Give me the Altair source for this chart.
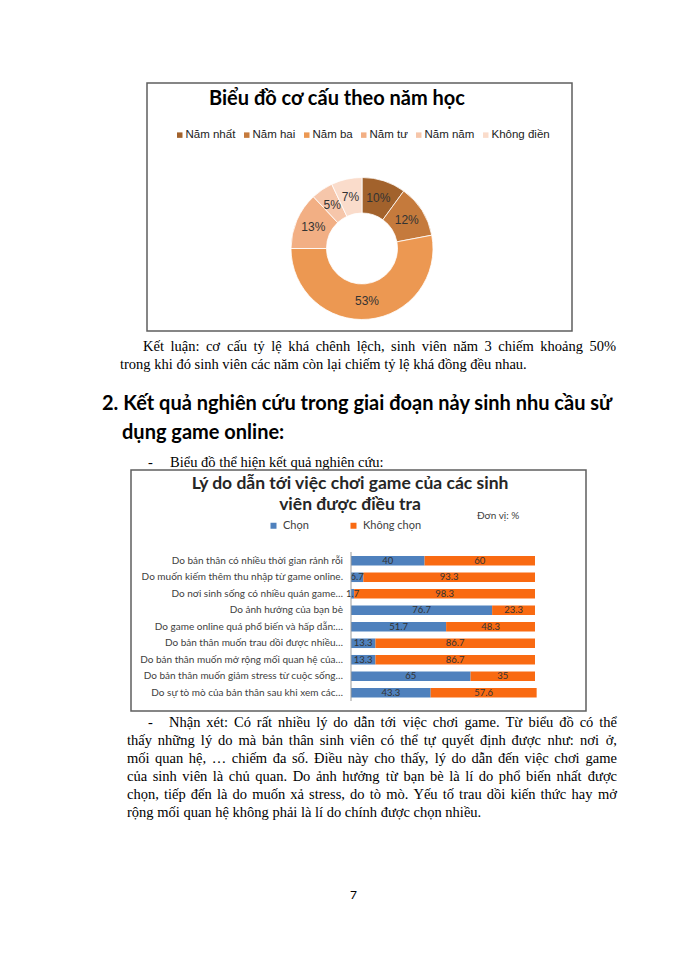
import unicodedata
import altair as alt
import pandas as pd

# ---------------- data ----------------
years = ["Năm nhất", "Năm hai", "Năm ba", "Năm tư", "Năm năm", "Không điền"]
year_pct = [10, 12, 53, 13, 5, 7]
year_colors = ["#A2622C", "#C57A3C", "#EC9852", "#F2AF84", "#F6C6AA", "#FADCCB"]

reasons = [
    "Do bản thân có nhiều thời gian rảnh rỗi",
    "Do muốn kiếm thêm thu nhập từ game online.",
    "Do nơi sinh sống có nhiều quán game…",
    "Do ảnh hưởng của bạn bè",
    "Do game online quá phổ biến và hấp dẫn:…",
    "Do bản thân muốn trau dồi được nhiều…",
    "Do bản thân muốn mở rộng mối quan hệ của…",
    "Do bản thân muốn giảm stress từ cuộc sống…",
    "Do sự tò mò của bản thân sau khi xem các…",
]
chon = [40, 6.7, 1.7, 76.7, 51.7, 13.3, 13.3, 65, 43.3]
khong_chon = [60, 93.3, 98.3, 23.3, 48.3, 86.7, 86.7, 35, 57.6]
series = ["Chọn", "Không chọn"]
series_colors = ["#4F81BD", "#F96A12"]

para1 = [
    "Kết luận: cơ cấu tỷ lệ khá chênh lệch, sinh viên năm 3 chiếm khoảng 50%",
    "trong khi đó sinh viên các năm còn lại chiếm tỷ lệ khá đồng đều nhau.",
]
heading = ["2. Kết quả nghiên cứu trong giai đoạn nảy sinh nhu cầu sử", "dụng game online:"]
bullet1 = "Biểu đồ thể hiện kết quả nghiên cứu:"
para2 = [
    "Nhận xét: Có rất nhiều lý do dẫn tới việc chơi game. Từ biểu đồ có thể",
    "thấy những lý do mà bản thân sinh viên có thể tự quyết định được như: nơi ở,",
    "mối quan hệ, … chiếm đa số. Điều này cho thấy, lý do dẫn đến việc chơi game",
    "của sinh viên là chủ quan. Do ảnh hưởng từ bạn bè là lí do phổ biến nhất được",
    "chọn, tiếp đến là do muốn xả stress, do tò mò. Yếu tố trau dồi kiến thức hay mở",
    "rộng mối quan hệ không phải là lí do chính được chọn nhiều.",
]
donut_title = "Biểu đồ cơ cấu theo năm học"
bar_title = ["Lý do dẫn tới việc chơi game của các sinh", "viên được điều tra"]
unit_note = "Đơn vị: %"
page_no = "7"

# ---------------- helpers ----------------
ONE = alt.Data(values=[{"k": 0}])
BODY = 14.5

# approximate Times advance widths (per 1000 em), used only to justify lines
_TW = dict(zip("abcdefghijklmnopqrstuvwxyz",
               [444, 500, 444, 500, 444, 333, 500, 500, 278, 278, 500, 278, 778,
                500, 500, 500, 500, 333, 389, 278, 500, 500, 722, 500, 500, 444]))
_TW.update(dict(zip("ABCDEFGHIJKLMNOPQRSTUVWXYZ",
                    [722, 667, 667, 722, 611, 556, 722, 722, 333, 389, 722, 611, 889,
                     722, 722, 556, 722, 667, 556, 611, 722, 722, 944, 722, 722, 611])))
_TW.update({c: 500 for c in "0123456789"})
_TW.update({" ": 250, ",": 250, ".": 250, ":": 278, "%": 833, "…": 1000, "-": 333})
_HORN = "ơờởỡớợưừửữứự"


def text_width(s, size=BODY):
    total = 0
    for ch in s:
        if ch in "đĐ":
            b = "d" if ch == "đ" else "D"
        else:
            b = unicodedata.normalize("NFD", ch)[0]
        w = _TW.get(b, 500)
        if ch.lower() in _HORN:
            w += 60
        total += w
    return total / 1000 * size


def P(v):
    return v - 8


def txt(s, x, y, size, font="Liberation Serif", weight="normal", color="#000000", align="left"):
    return alt.Chart(ONE).mark_text(
        align=align, baseline="middle", font=font, fontSize=size,
        fontWeight=weight, color=color
    ).encode(x=alt.value(P(x)), y=alt.value(P(y)), text=alt.value(s))


def justified(line, x0, x1, y, size=BODY):
    words = line.split(" ")
    widths = [text_width(w, size) for w in words]
    gap = max(2.0, (x1 - x0 - sum(widths)) / (len(words) - 1))
    out = []
    x = x0
    for i, w in enumerate(words):
        if i == len(words) - 1:
            out.append(txt(w, x1, y, size, align="right"))
        else:
            out.append(txt(w, x, y, size))
        x += widths[i] + gap
    return out


def frame(x1, y1, x2, y2):
    return alt.Chart(ONE).mark_rect(filled=False, stroke="#5f5f5f", strokeWidth=1.5).encode(
        x=alt.value(P(x1)), x2=alt.value(P(x2)), y=alt.value(P(y1)), y2=alt.value(P(y2))
    )


layers = []

# ---------------- donut chart ----------------
layers.append(frame(147, 83, 572, 331))
layers.append(txt(donut_title, 337, 99, 20, font="Lato", weight="bold", align="center"))

df_year = pd.DataFrame({"year": years, "pct": year_pct, "idx": list(range(len(years)))})
df_year["label"] = [f"{v}%" for v in year_pct]
cx, cy = P(362), P(248.5)

donut = alt.Chart(df_year).mark_arc(outerRadius=71, innerRadius=35.5, stroke="#ffffff", strokeWidth=0.8).encode(
    theta=alt.Theta("pct:Q", stack=True),
    color=alt.Color(
        "year:N",
        scale=alt.Scale(domain=years, range=year_colors),
        legend=alt.Legend(
            orient="none", legendX=P(174), legendY=P(129), direction="horizontal",
            title=None, symbolType="square", symbolSize=30, symbolStrokeWidth=0,
            labelFont="Liberation Sans", labelFontSize=11.5, labelColor="#222222",
            labelOffset=0, columnPadding=5, padding=0,
        ),
    ),
    order=alt.Order("idx:Q"),
    x=alt.value(cx), y=alt.value(cy),
)
donut_lbl = alt.Chart(df_year).mark_text(radius=53, font="Liberation Sans", fontSize=12, color="#333333").encode(
    theta=alt.Theta("pct:Q", stack=True),
    order=alt.Order("idx:Q"),
    text="label:N",
    x=alt.value(cx), y=alt.value(cy),
)
layers += [donut, donut_lbl]

# ---------------- page text ----------------
layers += justified(para1[0], 143, 616, 347)
layers.append(txt(para1[1], 120, 365, BODY))
layers.append(txt(heading[0], 102, 404, 20, font="Lato", weight="bold"))
layers.append(txt(heading[1], 122, 433, 20, font="Lato", weight="bold"))
layers.append(txt("-", 148, 463, BODY))
layers.append(txt(bullet1, 170, 463, BODY))

# ---------------- bar chart ----------------
layers.append(frame(131, 470, 586, 711))
layers.append(txt(bar_title[0], 350, 484, 17.5, font="Lato", weight="bold", color="#262626", align="center"))
layers.append(txt(bar_title[1], 350, 505, 17.5, font="Lato", weight="bold", color="#262626", align="center"))
layers.append(txt(unit_note, 477, 516, 10, font="Lato", color="#404040"))

rows = []
for i, r in enumerate(reasons):
    rows.append({"reason": r, "series": series[0], "sidx": 0, "value": chon[i]})
    rows.append({"reason": r, "series": series[1], "sidx": 1, "value": khong_chon[i]})
df_bar = pd.DataFrame(rows)
df_bar["label"] = [f"{v:g}" for v in df_bar["value"]]
df_cat = pd.DataFrame({"reason": reasons})

xs = alt.Scale(domain=[0, 100], range=[P(351), P(535)], nice=False, zero=True)
ys = alt.Scale(domain=reasons, range=[P(552.5), P(701)], paddingInner=0.42, paddingOuter=0.21)

bars = alt.Chart(df_bar).mark_bar().encode(
    y=alt.Y("reason:N", sort=reasons, scale=ys, axis=None),
    x=alt.X("value:Q", stack="zero", scale=xs, axis=None),
    color=alt.Color(
        "series:N",
        scale=alt.Scale(domain=series, range=series_colors),
        legend=alt.Legend(
            orient="none", legendX=P(268), legendY=P(520), direction="horizontal",
            title=None, symbolType="square", symbolSize=36, symbolStrokeWidth=0,
            labelFont="Lato", labelFontSize=11, labelColor="#404040",
            labelOffset=4, columnPadding=39, padding=0,
        ),
    ),
    order=alt.Order("sidx:Q"),
)
bar_lbl = alt.Chart(df_bar).transform_stack(
    stack="value", groupby=["reason"], as_=["v0", "v1"], sort=[alt.SortField("sidx")]
).transform_calculate(mid="(datum.v0 + datum.v1) / 2").mark_text(
    font="Lato", fontSize=9.5, color="#333333"
).encode(
    y=alt.Y("reason:N", sort=reasons, scale=ys, axis=None),
    x=alt.X("mid:Q", scale=xs, axis=None),
    text="label:N",
)
cat_lbl = alt.Chart(df_cat).mark_text(
    align="right", baseline="middle", font="Lato", fontSize=10, color="#404040"
).encode(
    y=alt.Y("reason:N", sort=reasons, scale=ys, axis=None),
    x=alt.value(P(343)),
    text="reason:N",
)
axis_line = alt.Chart(ONE).mark_rule(color="#9a9a9a", strokeWidth=1).encode(
    x=alt.value(P(351)), y=alt.value(P(552)), y2=alt.value(P(701))
)
layers.append(alt.layer(bars, bar_lbl, cat_lbl))
layers.append(axis_line)

# ---------------- remark text ----------------
layers.append(txt("-", 148, 723, BODY))
layers += justified(para2[0], 169, 617, 723)
for i, line in enumerate(para2[1:]):
    y = 741 + 18 * i
    if i < len(para2) - 2:
        layers += justified(line, 127, 617, y)
    else:
        layers.append(txt(line, 127, y, BODY))
layers.append(txt(page_no, 350, 895, 12, font="Lato"))

chart = alt.layer(*layers).resolve_scale(color="independent").properties(
    width=684, height=940, padding=0, autosize=alt.AutoSizeParams(type="none")
).configure_view(strokeWidth=0)

chart.save("out.html", embed_options={"renderer": "svg", "actions": False})
